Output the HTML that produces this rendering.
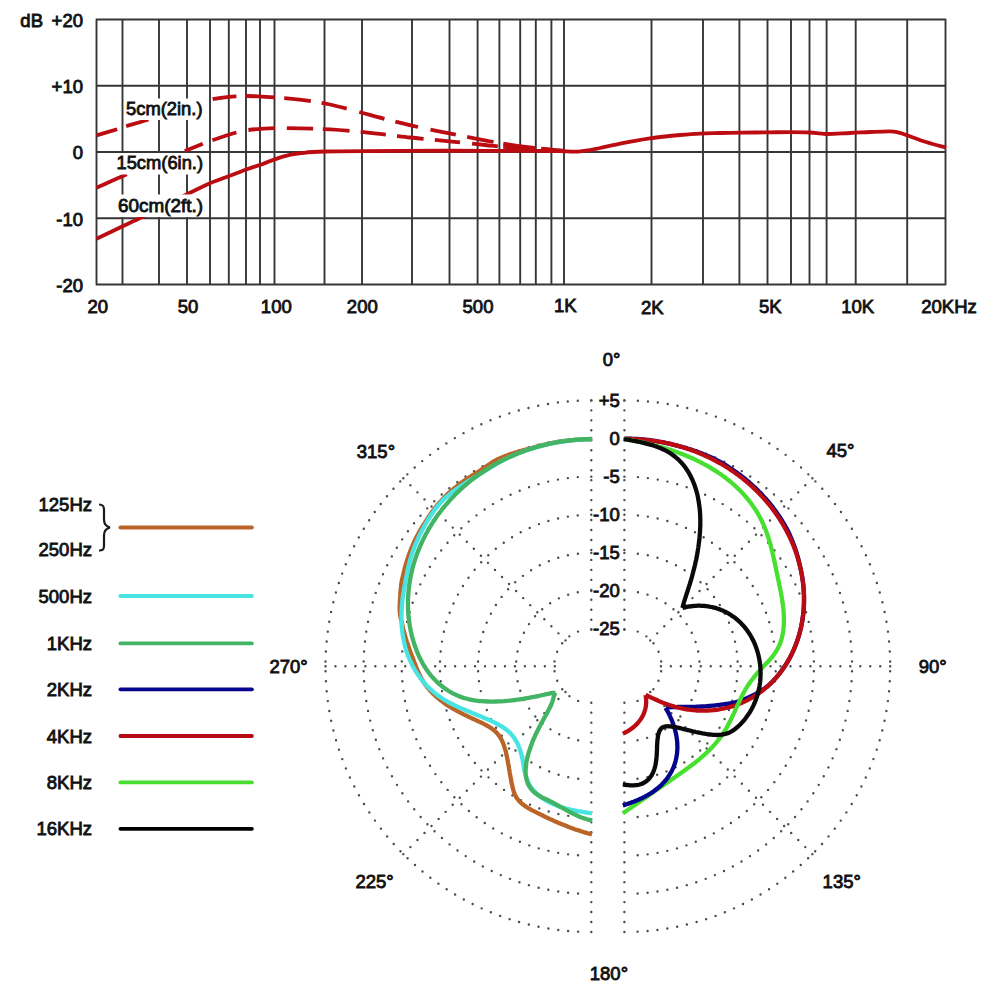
<!DOCTYPE html>
<html><head><meta charset="utf-8"><style>
html,body{margin:0;padding:0;background:#fff;}
svg{display:block;}
.t{font-family:"Liberation Sans",Arial,sans-serif;font-size:18.5px;fill:#111;stroke:#111;stroke-width:0.85px;}
</style></head><body>
<svg width="1000" height="1000" viewBox="0 0 1000 1000">
<rect width="1000" height="1000" fill="#fff"/>
<path d="M95.75 19.5H946.25M95.75 85.75H946.25M95.75 152H946.25M95.75 218.25H946.25M95.75 284.5H946.25M96.5 19.5V284.5M122.5 19.5V284.5M159 19.5V284.5M187 19.5V284.5M210 19.5V284.5M228.8 19.5V284.5M246 19.5V284.5M260 19.5V284.5M274.5 19.5V284.5M324.5 19.5V284.5M362 19.5V284.5M412 19.5V284.5M449.5 19.5V284.5M477.6 19.5V284.5M499.4 19.5V284.5M520.2 19.5V284.5M535.8 19.5V284.5M551.4 19.5V284.5M564 19.5V284.5M651.5 19.5V284.5M703 19.5V284.5M739.4 19.5V284.5M767.5 19.5V284.5M791 19.5V284.5M809.5 19.5V284.5M826.6 19.5V284.5M855.7 19.5V284.5M907.2 19.5V284.5M945.5 19.5V284.5" stroke="#363636" stroke-width="1.9" fill="none"/>
<g class="t" text-anchor="end">
<text x="43" y="27">dB</text>
<text x="83" y="26.8">+20</text>
<text x="83" y="93.0">+10</text>
<text x="83" y="159.3">0</text>
<text x="83" y="225.6">-10</text>
<text x="83" y="291.8">-20</text>
</g>
<g class="t" text-anchor="middle">
<text x="97.8" y="313">20</text>
<text x="188" y="313">50</text>
<text x="276.3" y="313">100</text>
<text x="362.3" y="313">200</text>
<text x="478" y="313">500</text>
<text x="565.2" y="311.6">1K</text>
<text x="652.4" y="314">2K</text>
<text x="770.2" y="312.8">5K</text>
<text x="857.6" y="312.8">10K</text>
<text x="949" y="312.8">20KHz</text>
</g>
<path d="M591.3 400.40A265.80 265.80 0 0 0 591.3 932.00" stroke="#4a4a4a" stroke-width="2.4" stroke-linecap="round" fill="none" stroke-dasharray="0 13.6 0 9.9733 0 9.9733 0 9.9733 0 9.9733 0 9.9733 0 9.9733 0 9.9733 0 9.9733 0 9.9733 0 9.9733 0 9.9733 0 9.9733 0 9.9733 0 9.9733 0 9.9733 0 9.9733 0 9.9733 0 9.9733 0 9.9733 0 9.9733 0 9.9733 0 9.9733 0 9.9733 0 9.9733 0 9.9733 0 9.9733 0 9.9733 0 9.9733 0 9.9733 0 9.9733 0 9.9733 0 9.9733 0 9.9733 0 9.9733 0 9.9733 0 9.9733 0 9.9733 0 9.9733 0 9.9733 0 9.9733 0 9.9733 0 9.9733 0 9.9733 0 9.9733 0 9.9733 0 9.9733 0 9.9733 0 9.9733 0 9.9733 0 9.9733 0 9.9733 0 9.9733 0 9.9733 0 9.9733 0 9.9733 0 9.9733 0 9.9733 0 9.9733 0 9.9733 0 9.9733 0 9.9733 0 9.9733 0 9.9733 0 9.9733 0 9.9733 0 9.9733 0 9.9733 0 9.9733 0 9.9733 0 9.9733 0 9.9733 0 9.9733 0 9.9733 0 9.9733 0 9.9733 0 9.9733 0 9.9733 0 9.9733 0 9.9733 0 9.9733 0 9.9733 0 13.6 0 2000"/>
<path d="M624.4 400.40A265.80 265.80 0 0 1 624.4 932.00" stroke="#4a4a4a" stroke-width="2.4" stroke-linecap="round" fill="none" stroke-dasharray="0 13.6 0 9.9733 0 9.9733 0 9.9733 0 9.9733 0 9.9733 0 9.9733 0 9.9733 0 9.9733 0 9.9733 0 9.9733 0 9.9733 0 9.9733 0 9.9733 0 9.9733 0 9.9733 0 9.9733 0 9.9733 0 9.9733 0 9.9733 0 9.9733 0 9.9733 0 9.9733 0 9.9733 0 9.9733 0 9.9733 0 9.9733 0 9.9733 0 9.9733 0 9.9733 0 9.9733 0 9.9733 0 9.9733 0 9.9733 0 9.9733 0 9.9733 0 9.9733 0 9.9733 0 9.9733 0 9.9733 0 9.9733 0 9.9733 0 9.9733 0 9.9733 0 9.9733 0 9.9733 0 9.9733 0 9.9733 0 9.9733 0 9.9733 0 9.9733 0 9.9733 0 9.9733 0 9.9733 0 9.9733 0 9.9733 0 9.9733 0 9.9733 0 9.9733 0 9.9733 0 9.9733 0 9.9733 0 9.9733 0 9.9733 0 9.9733 0 9.9733 0 9.9733 0 9.9733 0 9.9733 0 9.9733 0 9.9733 0 9.9733 0 9.9733 0 9.9733 0 9.9733 0 9.9733 0 9.9733 0 9.9733 0 9.9733 0 9.9733 0 9.9733 0 9.9733 0 13.6 0 2000"/>
<path d="M591.3 438.52A227.68 227.68 0 0 0 591.3 893.88" stroke="#4a4a4a" stroke-width="2.4" stroke-linecap="round" fill="none" stroke-dasharray="0 13.6 0 9.9721 0 9.9721 0 9.9721 0 9.9721 0 9.9721 0 9.9721 0 9.9721 0 9.9721 0 9.9721 0 9.9721 0 9.9721 0 9.9721 0 9.9721 0 9.9721 0 9.9721 0 9.9721 0 9.9721 0 9.9721 0 9.9721 0 9.9721 0 9.9721 0 9.9721 0 9.9721 0 9.9721 0 9.9721 0 9.9721 0 9.9721 0 9.9721 0 9.9721 0 9.9721 0 9.9721 0 9.9721 0 9.9721 0 9.9721 0 9.9721 0 9.9721 0 9.9721 0 9.9721 0 9.9721 0 9.9721 0 9.9721 0 9.9721 0 9.9721 0 9.9721 0 9.9721 0 9.9721 0 9.9721 0 9.9721 0 9.9721 0 9.9721 0 9.9721 0 9.9721 0 9.9721 0 9.9721 0 9.9721 0 9.9721 0 9.9721 0 9.9721 0 9.9721 0 9.9721 0 9.9721 0 9.9721 0 9.9721 0 9.9721 0 9.9721 0 9.9721 0 9.9721 0 9.9721 0 9.9721 0 13.6 0 2000"/>
<path d="M624.4 438.52A227.68 227.68 0 0 1 624.4 893.88" stroke="#4a4a4a" stroke-width="2.4" stroke-linecap="round" fill="none" stroke-dasharray="0 13.6 0 9.9721 0 9.9721 0 9.9721 0 9.9721 0 9.9721 0 9.9721 0 9.9721 0 9.9721 0 9.9721 0 9.9721 0 9.9721 0 9.9721 0 9.9721 0 9.9721 0 9.9721 0 9.9721 0 9.9721 0 9.9721 0 9.9721 0 9.9721 0 9.9721 0 9.9721 0 9.9721 0 9.9721 0 9.9721 0 9.9721 0 9.9721 0 9.9721 0 9.9721 0 9.9721 0 9.9721 0 9.9721 0 9.9721 0 9.9721 0 9.9721 0 9.9721 0 9.9721 0 9.9721 0 9.9721 0 9.9721 0 9.9721 0 9.9721 0 9.9721 0 9.9721 0 9.9721 0 9.9721 0 9.9721 0 9.9721 0 9.9721 0 9.9721 0 9.9721 0 9.9721 0 9.9721 0 9.9721 0 9.9721 0 9.9721 0 9.9721 0 9.9721 0 9.9721 0 9.9721 0 9.9721 0 9.9721 0 9.9721 0 9.9721 0 9.9721 0 9.9721 0 9.9721 0 9.9721 0 9.9721 0 13.6 0 2000"/>
<path d="M591.3 476.64A189.56 189.56 0 0 0 591.3 855.76" stroke="#4a4a4a" stroke-width="2.4" stroke-linecap="round" fill="none" stroke-dasharray="0 13.6 0 9.9705 0 9.9705 0 9.9705 0 9.9705 0 9.9705 0 9.9705 0 9.9705 0 9.9705 0 9.9705 0 9.9705 0 9.9705 0 9.9705 0 9.9705 0 9.9705 0 9.9705 0 9.9705 0 9.9705 0 9.9705 0 9.9705 0 9.9705 0 9.9705 0 9.9705 0 9.9705 0 9.9705 0 9.9705 0 9.9705 0 9.9705 0 9.9705 0 9.9705 0 9.9705 0 9.9705 0 9.9705 0 9.9705 0 9.9705 0 9.9705 0 9.9705 0 9.9705 0 9.9705 0 9.9705 0 9.9705 0 9.9705 0 9.9705 0 9.9705 0 9.9705 0 9.9705 0 9.9705 0 9.9705 0 9.9705 0 9.9705 0 9.9705 0 9.9705 0 9.9705 0 9.9705 0 9.9705 0 9.9705 0 9.9705 0 9.9705 0 13.6 0 2000"/>
<path d="M624.4 476.64A189.56 189.56 0 0 1 624.4 855.76" stroke="#4a4a4a" stroke-width="2.4" stroke-linecap="round" fill="none" stroke-dasharray="0 13.6 0 9.9705 0 9.9705 0 9.9705 0 9.9705 0 9.9705 0 9.9705 0 9.9705 0 9.9705 0 9.9705 0 9.9705 0 9.9705 0 9.9705 0 9.9705 0 9.9705 0 9.9705 0 9.9705 0 9.9705 0 9.9705 0 9.9705 0 9.9705 0 9.9705 0 9.9705 0 9.9705 0 9.9705 0 9.9705 0 9.9705 0 9.9705 0 9.9705 0 9.9705 0 9.9705 0 9.9705 0 9.9705 0 9.9705 0 9.9705 0 9.9705 0 9.9705 0 9.9705 0 9.9705 0 9.9705 0 9.9705 0 9.9705 0 9.9705 0 9.9705 0 9.9705 0 9.9705 0 9.9705 0 9.9705 0 9.9705 0 9.9705 0 9.9705 0 9.9705 0 9.9705 0 9.9705 0 9.9705 0 9.9705 0 9.9705 0 9.9705 0 13.6 0 2000"/>
<path d="M591.3 514.76A151.44 151.44 0 0 0 591.3 817.64" stroke="#4a4a4a" stroke-width="2.4" stroke-linecap="round" fill="none" stroke-dasharray="0 13.6 0 9.9681 0 9.9681 0 9.9681 0 9.9681 0 9.9681 0 9.9681 0 9.9681 0 9.9681 0 9.9681 0 9.9681 0 9.9681 0 9.9681 0 9.9681 0 9.9681 0 9.9681 0 9.9681 0 9.9681 0 9.9681 0 9.9681 0 9.9681 0 9.9681 0 9.9681 0 9.9681 0 9.9681 0 9.9681 0 9.9681 0 9.9681 0 9.9681 0 9.9681 0 9.9681 0 9.9681 0 9.9681 0 9.9681 0 9.9681 0 9.9681 0 9.9681 0 9.9681 0 9.9681 0 9.9681 0 9.9681 0 9.9681 0 9.9681 0 9.9681 0 9.9681 0 9.9681 0 13.6 0 2000"/>
<path d="M624.4 514.76A151.44 151.44 0 0 1 624.4 817.64" stroke="#4a4a4a" stroke-width="2.4" stroke-linecap="round" fill="none" stroke-dasharray="0 13.6 0 9.9681 0 9.9681 0 9.9681 0 9.9681 0 9.9681 0 9.9681 0 9.9681 0 9.9681 0 9.9681 0 9.9681 0 9.9681 0 9.9681 0 9.9681 0 9.9681 0 9.9681 0 9.9681 0 9.9681 0 9.9681 0 9.9681 0 9.9681 0 9.9681 0 9.9681 0 9.9681 0 9.9681 0 9.9681 0 9.9681 0 9.9681 0 9.9681 0 9.9681 0 9.9681 0 9.9681 0 9.9681 0 9.9681 0 9.9681 0 9.9681 0 9.9681 0 9.9681 0 9.9681 0 9.9681 0 9.9681 0 9.9681 0 9.9681 0 9.9681 0 9.9681 0 9.9681 0 13.6 0 2000"/>
<path d="M591.3 552.88A113.32 113.32 0 0 0 591.3 779.52" stroke="#4a4a4a" stroke-width="2.4" stroke-linecap="round" fill="none" stroke-dasharray="0 13.6 0 9.9638 0 9.9638 0 9.9638 0 9.9638 0 9.9638 0 9.9638 0 9.9638 0 9.9638 0 9.9638 0 9.9638 0 9.9638 0 9.9638 0 9.9638 0 9.9638 0 9.9638 0 9.9638 0 9.9638 0 9.9638 0 9.9638 0 9.9638 0 9.9638 0 9.9638 0 9.9638 0 9.9638 0 9.9638 0 9.9638 0 9.9638 0 9.9638 0 9.9638 0 9.9638 0 9.9638 0 9.9638 0 9.9638 0 13.6 0 2000"/>
<path d="M624.4 552.88A113.32 113.32 0 0 1 624.4 779.52" stroke="#4a4a4a" stroke-width="2.4" stroke-linecap="round" fill="none" stroke-dasharray="0 13.6 0 9.9638 0 9.9638 0 9.9638 0 9.9638 0 9.9638 0 9.9638 0 9.9638 0 9.9638 0 9.9638 0 9.9638 0 9.9638 0 9.9638 0 9.9638 0 9.9638 0 9.9638 0 9.9638 0 9.9638 0 9.9638 0 9.9638 0 9.9638 0 9.9638 0 9.9638 0 9.9638 0 9.9638 0 9.9638 0 9.9638 0 9.9638 0 9.9638 0 9.9638 0 9.9638 0 9.9638 0 9.9638 0 9.9638 0 13.6 0 2000"/>
<path d="M591.3 591.00A75.20 75.20 0 0 0 591.3 741.40" stroke="#4a4a4a" stroke-width="2.4" stroke-linecap="round" fill="none" stroke-dasharray="0 13.6 0 9.9547 0 9.9547 0 9.9547 0 9.9547 0 9.9547 0 9.9547 0 9.9547 0 9.9547 0 9.9547 0 9.9547 0 9.9547 0 9.9547 0 9.9547 0 9.9547 0 9.9547 0 9.9547 0 9.9547 0 9.9547 0 9.9547 0 9.9547 0 9.9547 0 13.6 0 2000"/>
<path d="M624.4 591.00A75.20 75.20 0 0 1 624.4 741.40" stroke="#4a4a4a" stroke-width="2.4" stroke-linecap="round" fill="none" stroke-dasharray="0 13.6 0 9.9547 0 9.9547 0 9.9547 0 9.9547 0 9.9547 0 9.9547 0 9.9547 0 9.9547 0 9.9547 0 9.9547 0 9.9547 0 9.9547 0 9.9547 0 9.9547 0 9.9547 0 9.9547 0 9.9547 0 9.9547 0 9.9547 0 9.9547 0 9.9547 0 13.6 0 2000"/>
<path d="M591.3 629.12A37.08 37.08 0 0 0 591.3 703.28" stroke="#4a4a4a" stroke-width="2.4" stroke-linecap="round" fill="none" stroke-dasharray="0 13.6 0 9.9211 0 9.9211 0 9.9211 0 9.9211 0 9.9211 0 9.9211 0 9.9211 0 9.9211 0 9.9211 0 13.6 0 2000"/>
<path d="M624.4 629.12A37.08 37.08 0 0 1 624.4 703.28" stroke="#4a4a4a" stroke-width="2.4" stroke-linecap="round" fill="none" stroke-dasharray="0 13.6 0 9.9211 0 9.9211 0 9.9211 0 9.9211 0 9.9211 0 9.9211 0 9.9211 0 9.9211 0 9.9211 0 13.6 0 2000"/>
<path d="M591.30 400.40L591.30 630.12M403.35 478.25L565.79 640.69M325.50 666.20L555.22 666.20M403.35 854.15L565.79 691.71M591.30 932.00L591.30 702.28M624.40 400.40L624.40 630.12M812.35 478.25L649.91 640.69M890.20 666.20L660.48 666.20M812.35 854.15L649.91 691.71M624.40 932.00L624.40 702.28" stroke="#4a4a4a" stroke-width="2.4" stroke-linecap="round" fill="none" stroke-dasharray="0 9.97"/>
<g class="t" text-anchor="middle">
<text x="619.8" y="406.7" text-anchor="end">+5</text>
<text x="619.8" y="444.8" text-anchor="end">0</text>
<text x="619.8" y="482.9" text-anchor="end">-5</text>
<text x="619.8" y="521.1" text-anchor="end">-10</text>
<text x="619.8" y="559.2" text-anchor="end">-15</text>
<text x="619.8" y="597.3" text-anchor="end">-20</text>
<text x="619.8" y="635.4" text-anchor="end">-25</text>
</g>
<g class="t" text-anchor="middle">
<text x="602.8" y="366" text-anchor="start">0°</text>
<text x="356.8" y="458" text-anchor="start">315°</text>
<text x="826.5" y="456.5" text-anchor="start">45°</text>
<text x="269.5" y="673.2" text-anchor="start">270°</text>
<text x="918.7" y="673.3" text-anchor="start">90°</text>
<text x="355.5" y="888" text-anchor="start">225°</text>
<text x="822.6" y="888" text-anchor="start">135°</text>
<text x="589.8" y="980.4" text-anchor="start">180°</text>
</g>
<g class="t" text-anchor="end">
<text x="92" y="511">125Hz</text><text x="92" y="556">250Hz</text>
<text x="92" y="602.5">500Hz</text>
<text x="92" y="649.9">1KHz</text>
<text x="92" y="695.8">2KHz</text>
<text x="92" y="742.5">4KHz</text>
<text x="92" y="788.9">8KHz</text>
<text x="92" y="835.3">16KHz</text>
</g>
<path d="M120.4 527.5H251.9" stroke="#bb6428" stroke-width="3.8" stroke-linecap="round"/>
<path d="M120.4 596H251.9" stroke="#48e4e4" stroke-width="3.8" stroke-linecap="round"/>
<path d="M120.4 643.4H251.9" stroke="#42b464" stroke-width="3.8" stroke-linecap="round"/>
<path d="M120.4 689.3H251.9" stroke="#04048c" stroke-width="3.8" stroke-linecap="round"/>
<path d="M120.4 736H251.9" stroke="#b80a14" stroke-width="3.8" stroke-linecap="round"/>
<path d="M120.4 782.4H251.9" stroke="#48e030" stroke-width="3.8" stroke-linecap="round"/>
<path d="M120.4 828.8H251.9" stroke="#000" stroke-width="3.8" stroke-linecap="round"/>
<path d="M99 504.5c4 0 5 1.5 5 5v10c0 4 2 7 6 8c-4 1-6 4-6 8v10c0 4-1 5-5 5" stroke="#1a1a1a" stroke-width="2.2" fill="none"/>
<path d="M96.5 135.4C100.0 134.4 112.2 130.8 117.2 129.3C122.2 127.8 121.0 127.8 126.2 126.2C131.4 124.6 139.4 122.5 148.4 119.5C157.4 116.5 169.3 111.4 180.0 108.0C190.7 104.6 203.0 101.2 212.4 99.2C221.8 97.2 228.8 96.8 236.4 96.3C244.0 95.8 250.4 96.0 258.0 96.3C265.6 96.6 273.2 97.2 282.0 98.0C290.8 98.8 302.8 100.0 310.8 101.1C318.8 102.2 321.9 102.7 330.0 104.5C338.1 106.3 350.1 109.6 359.2 112.0C368.3 114.4 374.6 116.3 384.4 118.8C394.2 121.3 406.1 124.4 418.0 127.0C429.9 129.6 443.7 132.2 455.8 134.6C467.9 137.0 478.4 139.3 490.8 141.5C503.2 143.7 517.8 145.9 530.0 147.5C542.2 149.1 558.3 150.2 564.0 150.8" stroke="#bb0c12" stroke-width="3.8" fill="none" stroke-dasharray="0.00 0.00 21.58 9.52 23.19 67.42 24.00 9.61 28.84 9.64 26.56 10.93 25.69 13.04 26.10 11.56 23.03 12.87 25.68 11.43 27.09 9.93 32.52 5.63 22.49 2000.00"/>
<path d="M96.5 187.8C101.5 185.6 117.0 178.5 126.8 174.3C136.6 170.1 145.3 166.4 155.0 162.5C164.7 158.6 176.8 154.1 184.8 151.0C192.8 147.9 198.2 145.6 202.8 143.8C207.4 142.0 206.8 142.1 212.4 140.2C218.0 138.3 230.4 134.2 236.4 132.5C242.4 130.8 242.0 130.7 248.4 130.0C254.8 129.3 266.2 128.5 274.8 128.2C283.4 127.9 290.8 128.1 300.0 128.3C309.2 128.5 319.9 128.8 330.0 129.4C340.1 130.0 351.3 130.9 360.6 131.8C369.9 132.7 377.6 133.7 385.8 134.6C394.0 135.5 401.8 136.6 410.0 137.5C418.2 138.4 426.5 139.0 434.8 139.8C443.1 140.6 451.6 141.5 460.0 142.4C468.4 143.3 476.7 144.2 485.0 145.0C493.3 145.8 500.8 146.8 510.0 147.5C519.2 148.2 531.0 148.9 540.0 149.5C549.0 150.1 560.0 150.6 564.0 150.8" stroke="#bb0c12" stroke-width="3.8" fill="none" stroke-dasharray="0.00 0.00 33.17 62.51 19.39 10.26 25.21 12.29 26.47 12.00 26.41 9.61 26.66 11.25 25.36 11.28 26.76 11.24 25.33 12.07 25.94 5.63 32.28 5.61 22.43 2000.00"/>
<path d="M96.5 238.8C100.4 236.9 112.5 231.1 120.0 227.5C127.5 223.9 134.1 221.1 141.6 217.3C149.1 213.6 157.6 208.8 165.0 205.0C172.4 201.2 178.5 198.3 186.0 194.7C193.5 191.1 202.8 186.3 210.0 183.2C217.2 180.1 222.8 178.4 229.2 176.0C235.6 173.6 242.8 170.8 248.4 168.8C254.0 166.8 257.2 166.0 262.8 164.0C268.4 162.0 275.6 158.6 282.0 156.8C288.4 155.0 293.8 154.1 301.0 153.2C308.2 152.3 308.5 151.9 325.0 151.5C341.5 151.1 370.8 150.9 400.0 150.8C429.2 150.7 476.7 150.8 500.0 150.8C523.3 150.8 530.0 150.8 540.0 150.9C550.0 151.0 554.2 151.1 560.0 151.2C565.8 151.3 570.3 151.8 575.0 151.7C579.7 151.6 583.8 151.0 588.0 150.4C592.2 149.8 594.7 149.1 600.0 148.0C605.3 146.9 614.2 144.8 620.0 143.6C625.8 142.4 630.0 141.7 635.0 140.8C640.0 139.9 645.0 139.1 650.0 138.4C655.0 137.7 660.0 137.1 665.0 136.5C670.0 135.9 674.2 135.5 680.0 135.0C685.8 134.5 693.3 133.9 700.0 133.6C706.7 133.3 713.0 133.2 720.0 133.0C727.0 132.8 734.0 132.7 742.0 132.6C750.0 132.5 760.0 132.5 768.0 132.4C776.0 132.3 783.0 132.1 790.0 132.1C797.0 132.1 804.0 132.2 810.0 132.5C816.0 132.8 819.3 133.9 826.0 134.0C832.7 134.1 842.7 133.3 850.0 133.0C857.3 132.7 863.3 132.3 870.0 132.0C876.7 131.7 885.3 131.2 890.0 131.3C894.7 131.4 895.3 131.7 898.0 132.3C900.7 132.9 901.3 133.4 906.0 135.0C910.7 136.6 919.3 139.9 926.0 142.0C932.7 144.1 942.7 146.6 946.0 147.5" stroke="#bb0c12" stroke-width="3.8" fill="none" stroke-linejoin="round"/>
<g class="t">
<rect x="124" y="98.5" width="81" height="21.5" fill="#fff" stroke="none"/>
<text x="126" y="115" textLength="76.5" lengthAdjust="spacingAndGlyphs">5cm(2in.)</text>
<rect x="111" y="153" width="95" height="21.5" fill="#fff" stroke="none"/>
<text x="116.5" y="169" textLength="86.5" lengthAdjust="spacingAndGlyphs">15cm(6in.)</text>
<rect x="113" y="194.5" width="93" height="22.5" fill="#fff" stroke="none"/>
<text x="118" y="211.5" textLength="85" lengthAdjust="spacingAndGlyphs">60cm(2ft.)</text>
</g>
<path d="M592.0 439.3L590.0 439.3 588.0 439.3 586.1 439.3 584.1 439.4 582.1 439.5 580.1 439.6 578.2 439.7 576.2 439.8 574.2 440.0 572.2 440.1 570.3 440.3 568.3 440.5 566.3 440.8 564.4 441.0 562.4 441.3 560.5 441.5 558.5 441.8 556.5 442.2 554.6 442.5 552.7 442.9 550.7 443.2 548.8 443.6 546.8 444.1 544.9 444.5 543.0 445.0 541.1 445.4 539.2 445.9 537.3 446.4 535.4 447.0 533.5 447.5 531.6 448.1 529.7 448.7 527.8 449.1 525.8 449.6 523.9 450.1 522.0 450.6 520.1 451.2 518.2 451.7 516.3 452.3 514.4 452.9 512.5 453.5 510.7 454.1 508.8 454.8 506.9 455.5 505.1 456.1 503.2 456.9 501.4 457.6 499.6 458.4 497.8 459.2 496.0 460.1 494.3 461.1 492.6 462.2 490.9 463.3 489.3 464.4 487.6 465.5 486.0 466.6 484.3 467.7 482.7 468.8 481.0 469.9 479.4 471.0 477.7 472.0 476.1 473.1 474.4 474.1 472.8 475.2 471.1 476.2 469.5 477.3 467.8 478.4 466.2 479.4 464.5 480.5 462.9 481.6 461.3 482.8 459.7 484.0 458.2 485.2 456.7 486.4 455.1 487.6 453.6 488.9 452.1 490.1 450.6 491.4 449.2 492.7 447.7 494.1 446.3 495.4 444.9 496.8 443.6 498.2 442.2 499.7 440.9 501.1 439.6 502.5 438.3 504.0 437.0 505.5 435.8 507.0 434.6 508.6 433.4 510.1 432.2 511.7 431.1 513.3 430.0 514.9 428.9 516.5 427.8 518.2 426.8 519.8 425.7 521.4 424.7 523.1 423.6 524.7 422.6 526.4 421.6 528.0 420.6 529.7 419.6 531.3 418.7 533.0 417.8 534.7 416.9 536.4 416.0 538.1 415.1 539.9 414.3 541.6 413.5 543.3 412.8 545.1 412.0 546.9 411.3 548.6 410.6 550.4 409.9 552.2 409.2 554.0 408.6 555.8 408.0 557.6 407.4 559.4 406.8 561.2 406.3 563.0 405.7 564.9 405.2 566.7 404.7 568.5 404.3 570.4 403.8 572.2 403.4 574.0 403.0 575.8 402.6 577.7 402.1 579.5 401.7 581.3 401.4 583.1 401.2 585.0 401.0 586.9 400.8 588.7 400.6 590.6 400.4 592.5 400.3 594.3 400.2 596.2 400.0 598.0 400.0 599.9 399.9 601.7 399.8 603.6 399.7 605.4 399.6 607.2 399.6 609.0 399.7 610.9 399.8 612.7 400.1 614.6 400.4 616.4 400.7 618.3 401.2 620.2 401.8 622.1 402.1 623.9 402.5 625.7 402.9 627.5 403.3 629.3 403.8 631.1 404.2 632.9 404.7 634.7 405.2 636.4 405.8 638.2 406.3 639.9 406.8 641.6 407.4 643.3 408.0 645.0 408.6 646.7 409.1 648.4 409.7 650.1 410.3 651.7 410.9 653.3 411.5 655.0 412.2 656.6 412.8 658.2 413.4 659.8 414.0 661.3 414.6 662.9 415.2 664.5 415.8 666.0 416.4 667.5 417.0 669.1 417.7 670.6 418.4 672.1 419.0 673.6 419.7 675.0 420.5 676.5 421.2 677.9 422.0 679.4 422.9 680.8 423.7 682.2 424.6 683.6 425.6 685.0 426.6 686.3 427.6 687.6 428.7 688.9 429.8 690.2 431.0 691.5 432.2 692.7 433.4 694.0 434.7 695.2 435.9 696.3 437.3 697.5 438.6 698.6 439.9 699.7 441.3 700.8 442.7 701.8 444.1 702.9 445.5 703.9 447.0 704.9 448.4 705.8 449.9 706.7 451.4 707.7 452.9 708.5 454.3 709.4 455.8 710.2 457.3 711.1 458.8 711.9 460.3 712.7 461.7 713.4 463.2 714.2 464.7 714.9 466.1 715.6 467.6 716.3 469.0 717.0 470.4 717.6 471.8 718.3 473.2 718.9 474.5 719.5 475.9 720.1 477.2 720.8 478.5 721.4 479.8 722.0 481.0 722.5 482.2 723.1 483.4 723.7 484.6 724.3 485.7 724.9 486.8 725.5 487.9 726.1 488.9 726.7 489.9 727.3 490.9 728.0 491.8 728.6 492.7 729.3 493.6 729.9 494.4 730.6 495.2 731.3 495.9 732.0 496.6 732.8 497.3 733.5 498.0 734.3 498.6 735.1 499.2 735.9 499.8 736.8 500.3 737.6 500.8 738.5 501.3 739.4 501.8 740.3 502.3 741.3 502.7 742.3 503.1 743.3 503.5 744.3 503.9 745.3 504.2 746.4 504.6 747.5 504.9 748.6 505.3 749.8 505.6 750.9 505.9 752.1 506.2 753.4 506.4 754.6 506.7 755.9 507.0 757.2 507.2 758.5 507.5 759.8 507.8 761.2 508.0 762.6 508.3 764.0 508.5 765.5 508.8 766.9 509.0 768.4 509.3 770.0 509.6 771.5 509.8 773.1 510.1 774.6 510.4 776.3 510.7 777.9 511.0 779.5 511.3 781.2 511.6 782.9 512.0 784.6 512.4 786.3 512.8 788.0 513.2 789.7 513.7 791.3 514.2 792.9 514.8 794.4 515.5 795.8 516.2 797.2 517.1 798.5 517.9 799.6 518.9 800.7 519.8 801.7 520.8 802.7 521.9 803.6 523.0 804.5 524.0 805.3 525.2 806.1 526.3 806.9 527.5 807.6 528.6 808.3 529.8 809.0 531.0 809.6 532.2 810.3 533.4 810.9 534.7 811.5 535.9 812.2 537.1 812.8 538.3 813.4 539.6 814.0 540.8 814.6 542.1 815.2 543.3 815.9 544.6 816.5 545.8 817.1 547.1 817.7 548.3 818.3 549.6 818.9 550.9 819.4 552.2 820.0 553.5 820.6 554.7 821.2 556.0 821.8 557.3 822.3 558.7 822.9 560.0 823.4 561.3 824.0 562.6 824.5 563.9 825.1 565.3 825.6 566.6 826.1 568.0 826.7 569.3 827.2 570.7 827.7 572.1 828.2 573.5 828.7 574.8 829.2 576.2 829.7 577.6 830.1 579.0 830.6 580.5 831.1 581.9 831.5 583.3 832.0 584.7 832.4 586.2 832.8 587.6 833.2 589.1 833.6 590.5 834.0 592.0 834.4" stroke="#bb6428" stroke-width="4.3" fill="none" stroke-linejoin="round" stroke-linecap="butt"/>
<path d="M592.0 439.3L590.0 439.3 588.0 439.3 586.1 439.4 584.1 439.5 582.1 439.6 580.1 439.7 578.2 439.8 576.2 439.9 574.2 440.1 572.3 440.3 570.3 440.5 568.3 440.7 566.4 441.0 564.4 441.2 562.4 441.5 560.5 441.8 558.5 442.1 556.6 442.4 554.6 442.8 552.7 443.2 550.8 443.6 548.8 444.0 546.9 444.4 545.0 444.9 543.1 445.3 541.2 445.8 539.3 446.3 537.4 446.9 535.5 447.4 533.6 448.0 531.7 448.5 529.8 449.1 527.9 449.8 526.1 450.4 524.2 451.1 522.4 451.7 520.5 452.4 518.7 453.1 516.9 453.9 515.1 454.6 513.2 455.4 511.4 456.2 509.7 457.0 507.9 457.8 506.1 458.6 504.3 459.5 502.6 460.4 500.9 461.3 499.1 462.3 497.5 463.2 495.8 464.3 494.1 465.3 492.4 466.3 490.8 467.3 489.1 468.4 487.5 469.4 485.8 470.5 484.2 471.5 482.5 472.5 480.9 473.6 479.2 474.6 477.6 475.6 475.9 476.6 474.2 477.6 472.6 478.6 470.9 479.6 469.3 480.6 467.6 481.6 466.0 482.6 464.3 483.7 462.7 484.7 461.1 485.8 459.5 486.9 457.9 488.0 456.3 489.1 454.7 490.3 453.1 491.4 451.6 492.6 450.1 493.8 448.6 495.1 447.1 496.3 445.6 497.6 444.2 498.9 442.8 500.2 441.4 501.7 440.1 503.1 438.9 504.6 437.6 506.1 436.4 507.7 435.2 509.2 434.0 510.8 432.9 512.4 431.8 514.0 430.7 515.6 429.6 517.2 428.6 518.9 427.6 520.5 426.6 522.2 425.6 523.9 424.7 525.6 423.7 527.3 422.8 529.0 421.8 530.7 421.0 532.4 420.1 534.1 419.2 535.8 418.4 537.6 417.6 539.3 416.9 541.1 416.1 542.8 415.4 544.6 414.7 546.4 414.0 548.2 413.4 550.0 412.7 551.8 412.1 553.6 411.5 555.4 411.0 557.2 410.4 559.1 409.9 560.9 409.4 562.7 409.0 564.5 408.5 566.4 408.1 568.2 407.7 570.0 407.3 571.9 406.9 573.7 406.6 575.6 406.2 577.4 405.9 579.2 405.5 581.0 405.1 582.8 404.8 584.6 404.5 586.4 404.1 588.2 403.8 590.0 403.6 591.8 403.3 593.6 403.0 595.3 402.8 597.1 402.6 598.9 402.4 600.7 402.2 602.5 402.0 604.3 401.9 606.1 401.8 607.8 401.7 609.6 401.6 611.4 401.5 613.2 401.5 615.0 401.5 616.7 401.5 618.5 401.5 620.3 401.5 622.0 401.6 623.8 401.7 625.6 401.9 627.3 402.0 629.1 402.2 630.8 402.4 632.6 402.7 634.3 402.9 636.1 403.2 637.8 403.6 639.5 403.9 641.2 404.3 642.9 404.7 644.7 405.1 646.4 405.5 648.0 406.0 649.7 406.5 651.4 407.1 653.1 407.7 654.7 408.3 656.4 409.0 658.0 409.7 659.6 410.4 661.2 411.1 662.8 411.9 664.4 412.7 666.0 413.6 667.6 414.4 669.1 415.3 670.6 416.3 672.1 417.2 673.6 418.2 675.1 419.3 676.6 420.3 678.0 421.4 679.4 422.5 680.8 423.7 682.2 424.9 683.6 426.1 684.9 427.3 686.2 428.6 687.5 429.9 688.8 431.3 690.0 432.6 691.2 434.0 692.4 435.5 693.6 436.9 694.7 438.4 695.9 440.0 696.9 441.5 698.0 443.1 699.0 444.7 700.0 446.3 701.0 448.0 701.9 449.7 702.8 451.3 703.7 453.0 704.5 454.7 705.4 456.4 706.2 458.1 706.9 459.8 707.7 461.4 708.4 463.1 709.1 464.7 709.8 466.3 710.5 467.9 711.2 469.5 711.8 471.0 712.4 472.5 713.1 474.0 713.7 475.5 714.3 476.9 714.9 478.3 715.4 479.7 716.0 481.0 716.6 482.4 717.1 483.7 717.7 484.9 718.2 486.2 718.7 487.4 719.3 488.6 719.8 489.8 720.3 491.0 720.9 492.1 721.4 493.2 721.9 494.3 722.4 495.3 722.9 496.4 723.5 497.4 724.0 498.3 724.5 499.3 725.1 500.2 725.6 501.1 726.1 502.0 726.7 502.9 727.2 503.7 727.8 504.6 728.4 505.4 728.9 506.1 729.5 506.9 730.1 507.6 730.7 508.3 731.4 509.0 732.0 509.7 732.6 510.4 733.3 511.0 734.0 511.6 734.6 512.2 735.3 512.8 736.1 513.4 736.8 513.9 737.6 514.4 738.3 515.0 739.1 515.5 739.9 515.9 740.7 516.4 741.6 516.9 742.4 517.3 743.3 517.8 744.2 518.2 745.2 518.6 746.1 519.0 747.1 519.4 748.1 519.7 749.1 520.1 750.2 520.4 751.3 520.8 752.4 521.1 753.6 521.4 754.7 521.7 756.0 522.0 757.2 522.3 758.5 522.6 759.8 522.8 761.2 523.1 762.6 523.3 764.0 523.6 765.5 523.9 767.0 524.1 768.5 524.4 770.0 524.7 771.6 525.1 773.1 525.5 774.6 525.9 776.0 526.3 777.5 526.8 778.9 527.4 780.3 527.9 781.6 528.6 782.9 529.2 784.1 529.9 785.3 530.7 786.4 531.4 787.5 532.2 788.6 533.0 789.6 533.9 790.6 534.8 791.6 535.7 792.5 536.6 793.4 537.5 794.3 538.5 795.1 539.5 796.0 540.5 796.8 541.5 797.5 542.5 798.3 543.6 799.0 544.7 799.7 545.7 800.3 546.8 801.0 547.9 801.6 549.1 802.2 550.2 802.8 551.3 803.3 552.5 803.8 553.6 804.3 554.8 804.8 556.0 805.3 557.2 805.7 558.3 806.2 559.5 806.6 560.7 807.0 562.0 807.3 563.2 807.7 564.4 808.0 565.6 808.4 566.8 808.7 568.1 809.0 569.3 809.3 570.5 809.6 571.8 809.8 573.0 810.1 574.3 810.4 575.5 810.6 576.8 810.8 578.0 811.1 579.3 811.3 580.5 811.5 581.8 811.7 583.1 812.0 584.3 812.2 585.6 812.4 586.9 812.6 588.2 812.8 589.4 813.0 590.7 813.2 592.0 813.4" stroke="#48e4e4" stroke-width="4.3" fill="none" stroke-linejoin="round" stroke-linecap="butt"/>
<path d="M592.0 439.0L590.0 439.0 588.0 439.1 586.0 439.1 584.1 439.2 582.1 439.3 580.1 439.5 578.1 439.6 576.1 439.7 574.2 439.9 572.2 440.1 570.2 440.3 568.3 440.6 566.3 440.8 564.3 441.1 562.4 441.4 560.4 441.7 558.4 442.0 556.5 442.4 554.6 442.7 552.6 443.1 550.7 443.5 548.7 443.9 546.8 444.4 544.9 444.8 543.0 445.3 541.0 445.8 539.1 446.3 537.2 446.9 535.3 447.4 533.4 448.0 531.6 448.6 529.7 449.2 527.8 449.8 525.9 450.4 524.1 451.1 522.2 451.8 520.4 452.5 518.5 453.2 516.7 453.9 514.9 454.7 513.1 455.5 511.3 456.3 509.5 457.1 507.7 457.9 505.9 458.7 504.2 459.6 502.4 460.5 500.7 461.4 498.9 462.3 497.2 463.2 495.5 464.2 493.8 465.1 492.1 466.1 490.4 467.1 488.7 468.1 487.1 469.2 485.4 470.2 483.8 471.3 482.2 472.4 480.5 473.5 478.9 474.6 477.4 475.7 475.8 476.9 474.2 478.0 472.7 479.2 471.1 480.4 469.6 481.6 468.1 482.9 466.6 484.1 465.1 485.4 463.7 486.6 462.2 487.9 460.8 489.2 459.4 490.6 458.0 491.9 456.6 493.2 455.2 494.6 453.9 496.0 452.5 497.4 451.2 498.8 449.9 500.2 448.6 501.6 447.4 503.1 446.1 504.5 444.9 506.0 443.6 507.5 442.4 508.9 441.3 510.5 440.1 512.0 439.0 513.5 437.8 515.0 436.7 516.6 435.6 518.2 434.6 519.7 433.5 521.3 432.5 522.9 431.4 524.5 430.5 526.1 429.5 527.7 428.5 529.4 427.6 531.0 426.7 532.7 425.8 534.3 424.9 536.0 424.1 537.7 423.2 539.4 422.4 541.1 421.6 542.8 420.8 544.5 420.1 546.2 419.4 547.9 418.7 549.6 418.0 551.4 417.3 553.1 416.7 554.9 416.1 556.6 415.5 558.4 414.9 560.1 414.3 561.9 413.8 563.7 413.3 565.5 412.8 567.2 412.3 569.0 411.9 570.8 411.5 572.6 411.1 574.4 410.7 576.2 410.4 578.0 410.1 579.8 409.8 581.6 409.5 583.4 409.2 585.2 409.0 587.0 408.8 588.8 408.6 590.6 408.4 592.4 408.3 594.2 408.2 596.0 408.1 597.8 408.0 599.6 408.0 601.4 408.0 603.2 408.0 605.0 408.0 606.8 408.0 608.6 408.1 610.4 408.2 612.1 408.3 613.9 408.5 615.7 408.6 617.5 408.8 619.2 409.1 621.0 409.3 622.7 409.6 624.5 409.8 626.2 410.2 627.9 410.5 629.7 410.8 631.4 411.2 633.1 411.6 634.8 412.0 636.5 412.5 638.2 413.0 639.8 413.5 641.5 414.0 643.2 414.5 644.8 415.1 646.4 415.7 648.1 416.3 649.7 416.9 651.3 417.5 652.9 418.2 654.4 418.9 656.0 419.6 657.6 420.4 659.1 421.2 660.6 422.0 662.1 422.8 663.6 423.7 665.1 424.6 666.6 425.5 668.1 426.5 669.5 427.4 670.9 428.5 672.3 429.5 673.7 430.6 675.1 431.7 676.4 432.9 677.7 434.1 679.0 435.3 680.3 436.6 681.6 437.9 682.8 439.2 684.0 440.6 685.2 442.1 686.3 443.5 687.5 445.0 688.6 446.6 689.6 448.2 690.7 449.8 691.7 451.5 692.6 453.3 693.6 455.0 694.4 456.9 695.3 458.8 696.1 460.8 696.9 462.8 697.6 465.0 698.2 467.2 698.8 469.4 699.4 471.8 699.9 474.2 700.3 476.7 700.7 479.3 701.0 481.9 701.2 484.6 701.4 487.4 701.5 490.1 701.6 493.0 701.6 495.8 701.5 498.6 701.4 501.4 701.3 504.1 701.1 506.9 700.8 509.6 700.6 512.2 700.3 514.8 700.0 517.3 699.7 519.7 699.3 522.1 699.0 524.4 698.6 526.7 698.2 528.9 697.8 531.0 697.4 533.0 697.0 535.0 696.7 536.9 696.3 538.7 695.9 540.5 695.5 542.1 695.1 543.7 694.8 545.2 694.4 546.6 694.1 548.0 693.8 549.2 693.6 550.4 693.3 551.4 693.1 552.4 693.0 553.3 692.9 554.1 692.8 554.9 692.8 555.5 692.8M555.5 692.8L555.0 693.7 554.6 694.5 554.2 695.3 553.9 696.1 553.7 696.8 553.5 697.5 553.3 698.3 553.1 699.0 552.9 699.8 552.7 700.6 552.4 701.4 552.1 702.3 551.7 703.3 551.3 704.4 550.8 705.5 550.2 706.8 549.5 708.2 548.7 709.8 547.8 711.5 546.8 713.4 545.6 715.5 544.4 717.7 543.1 720.1 541.7 722.6 540.3 725.2 538.9 727.9 537.5 730.7 536.1 733.5 534.8 736.3 533.6 739.1 532.4 741.9 531.4 744.7 530.4 747.5 529.5 750.2 528.6 752.9 527.9 755.5 527.3 758.1 526.7 760.6 526.3 763.0 526.0 765.4 525.8 767.7 525.6 769.8 525.6 771.9 525.7 773.9 525.9 775.8 526.1 777.5 526.5 779.2 526.9 780.8 527.4 782.3 527.9 783.7 528.6 785.0 529.2 786.3 530.0 787.5 530.8 788.6 531.6 789.6 532.5 790.6 533.4 791.5 534.3 792.4 535.3 793.2 536.3 793.9 537.3 794.6 538.4 795.3 539.4 795.9 540.5 796.5 541.6 797.1 542.7 797.7 543.8 798.2 545.0 798.8 546.1 799.3 547.2 799.8 548.4 800.3 549.5 800.9 550.6 801.4 551.7 802.0 552.9 802.6 554.0 803.2 555.1 803.8 556.3 804.4 557.4 805.1 558.5 805.7 559.7 806.4 560.8 807.0 562.0 807.7 563.1 808.3 564.3 809.0 565.5 809.7 566.7 810.3 567.9 811.0 569.1 811.6 570.3 812.3 571.5 812.9 572.7 813.5 574.0 814.1 575.2 814.7 576.5 815.3 577.8 815.9 579.1 816.4 580.3 817.0 581.6 817.5 582.9 817.9 584.3 818.4 585.6 818.8 586.9 819.2 588.3 819.6 589.6 819.9 590.9 820.2 592.3 820.5" stroke="#42b464" stroke-width="4.3" fill="none" stroke-linejoin="round" stroke-linecap="butt"/>
<path d="M625.0 438.7L627.0 438.7 629.0 438.7 631.0 438.7 632.9 438.8 634.9 438.9 636.9 439.0 638.9 439.1 640.9 439.3 642.8 439.4 644.8 439.6 646.8 439.8 648.7 440.0 650.7 440.3 652.7 440.6 654.6 440.8 656.6 441.1 658.6 441.5 660.5 441.8 662.5 442.2 664.4 442.6 666.3 443.0 668.3 443.4 670.2 443.8 672.1 444.3 674.0 444.8 676.0 445.3 677.9 445.8 679.8 446.3 681.7 446.8 683.6 447.4 685.5 447.9 687.4 448.5 689.3 449.0 691.2 449.6 693.0 450.2 694.9 450.9 696.8 451.5 698.6 452.2 700.5 452.9 702.3 453.6 704.1 454.4 706.0 455.1 707.8 455.9 709.6 456.7 711.4 457.5 713.2 458.3 714.9 459.2 716.7 460.0 718.4 461.0 720.2 461.9 721.9 462.9 723.6 463.9 725.3 464.9 726.9 465.9 728.6 467.0 730.2 468.1 731.9 469.2 733.5 470.3 735.1 471.4 736.7 472.5 738.3 473.7 739.9 474.8 741.4 476.0 743.0 477.2 744.5 478.4 746.0 479.7 747.5 480.9 749.0 482.2 750.5 483.5 751.9 484.8 753.3 486.1 754.8 487.4 756.2 488.7 757.6 490.1 758.9 491.5 760.3 492.8 761.6 494.2 762.9 495.7 764.2 497.1 765.5 498.5 766.8 500.0 768.1 501.4 769.3 502.9 770.5 504.4 771.7 505.9 772.9 507.4 774.0 508.9 775.2 510.5 776.3 512.0 777.4 513.6 778.5 515.2 779.6 516.8 780.6 518.3 781.6 519.9 782.6 521.6 783.6 523.2 784.6 524.8 785.5 526.5 786.4 528.1 787.3 529.8 788.2 531.5 789.0 533.2 789.8 534.9 790.5 536.7 791.3 538.4 792.0 540.2 792.7 541.9 793.4 543.7 794.0 545.4 794.7 547.2 795.3 549.0 795.9 550.7 796.4 552.5 797.0 554.3 797.5 556.1 798.0 557.9 798.5 559.7 798.9 561.5 799.3 563.3 799.7 565.1 800.2 566.9 800.6 568.7 801.0 570.5 801.3 572.2 801.7 574.0 802.0 575.8 802.3 577.6 802.6 579.4 802.8 581.2 803.1 583.0 803.3 584.8 803.4 586.6 803.6 588.3 803.7 590.1 803.8 591.9 803.9 593.7 804.0 595.5 804.0 597.3 804.0 599.1 804.0 600.8 804.0 602.6 804.0 604.4 803.9 606.1 803.8 607.9 803.7 609.7 803.5 611.4 803.3 613.2 803.1 614.9 802.9 616.7 802.7 618.4 802.4 620.1 802.1 621.8 801.8 623.6 801.5 625.3 801.1 627.0 800.7 628.6 800.3 630.3 799.9 632.0 799.5 633.7 799.0 635.3 798.5 637.0 798.0 638.6 797.4 640.2 796.9 641.8 796.3 643.4 795.7 645.0 795.1 646.6 794.4 648.2 793.7 649.8 793.1 651.3 792.3 652.8 791.6 654.4 790.8 655.9 790.1 657.3 789.3 658.8 788.4 660.3 787.6 661.7 786.7 663.2 785.8 664.6 784.9 666.0 784.0 667.4 783.1 668.8 782.1 670.1 781.1 671.5 780.1 672.8 779.1 674.1 778.0 675.4 777.0 676.6 775.9 677.9 774.8 679.1 773.7 680.3 772.5 681.5 771.4 682.7 770.2 683.8 769.0 685.0 767.8 686.1 766.3 687.1 764.9 688.2 763.4 689.2 761.9 690.1 760.4 691.1 758.9 692.0 757.3 692.9 755.8 693.8 754.2 694.6 752.6 695.5 751.0 696.3 749.4 697.0 747.8 697.8 746.2 698.5 744.5 699.1 742.9 699.8 741.2 700.4 739.5 701.0 737.8 701.6 736.1 702.1 734.4 702.6 732.4 703.0 730.4 703.3 728.4 703.6 726.5 703.9 724.6 704.2 722.7 704.5 720.9 704.7 719.1 705.0 717.3 705.2 715.6 705.4 713.9 705.6 712.2 705.7 710.5 705.9 708.9 706.0 707.3 706.1 705.7 706.3 704.2 706.4 702.7 706.5 701.2 706.5 699.8 706.6 698.4 706.7 697.0 706.7 695.6 706.8 694.3 706.8 693.0 706.9 691.7 706.9 690.5 706.9 689.2 706.9 688.0 706.9 686.9 707.0 685.7 707.0 684.6 707.0 683.5 707.0 682.5 707.0 681.4 707.0 680.4 707.0 679.4 707.0 678.5 707.0 677.5 707.0 676.6 707.1 675.7 707.1 674.9 707.1 674.0 707.1 673.2 707.1 672.4 707.2 671.6 707.2 670.8 707.3 670.1 707.3 669.4 707.4 668.7 707.4 668.0 707.5 667.3 707.6 666.7 707.7 666.0 707.8" stroke="#04048c" stroke-width="4.3" fill="none" stroke-linejoin="round" stroke-linecap="butt"/>
<path d="M624.0 439.0L626.0 439.0 628.0 439.0 630.0 439.0 632.0 439.1 633.9 439.1 635.9 439.2 637.9 439.3 639.9 439.4 641.9 439.6 643.9 439.7 645.8 439.9 647.8 440.1 649.8 440.4 651.8 440.6 653.7 440.9 655.7 441.2 657.7 441.5 659.6 441.8 661.6 442.1 663.5 442.5 665.5 442.9 667.4 443.3 669.4 443.7 671.3 444.2 673.2 444.7 675.1 445.1 677.1 445.7 679.0 446.2 680.9 446.7 682.8 447.3 684.7 447.9 686.6 448.5 688.4 449.1 690.3 449.8 692.2 450.4 694.0 451.1 695.9 451.8 697.7 452.6 699.5 453.3 701.4 454.1 703.2 454.9 705.0 455.7 706.8 456.5 708.6 457.3 710.3 458.2 712.1 459.1 713.9 460.0 715.6 460.9 717.3 461.8 719.1 462.8 720.8 463.7 722.5 464.7 724.2 465.7 725.8 466.7 727.5 467.8 729.1 468.8 730.8 469.9 732.4 471.0 734.0 472.1 735.6 473.3 737.2 474.4 738.8 475.6 740.3 476.7 741.9 477.9 743.4 479.1 744.9 480.4 746.4 481.6 747.9 482.9 749.4 484.2 750.8 485.4 752.2 486.7 753.7 488.1 755.1 489.4 756.5 490.7 757.8 492.1 759.2 493.5 760.5 494.9 761.8 496.3 763.2 497.7 764.4 499.1 765.7 500.6 767.0 502.1 768.2 503.5 769.4 505.0 770.6 506.5 771.8 508.0 772.9 509.5 774.1 511.1 775.2 512.6 776.3 514.2 777.4 515.7 778.4 517.3 779.5 518.9 780.5 520.5 781.5 522.1 782.5 523.7 783.5 525.4 784.4 527.0 785.3 528.7 786.2 530.3 787.1 532.0 788.0 533.7 788.8 535.4 789.6 537.0 790.4 538.7 791.2 540.4 791.9 542.2 792.7 543.9 793.4 545.6 794.1 547.3 794.7 549.1 795.4 550.8 796.0 552.6 796.6 554.3 797.2 556.1 797.7 557.9 798.2 559.6 798.7 561.4 799.2 563.2 799.7 565.0 800.1 566.7 800.5 568.5 800.9 570.3 801.3 572.1 801.6 573.9 802.0 575.7 802.3 577.5 802.5 579.3 802.8 581.1 803.0 582.9 803.2 584.7 803.4 586.5 803.6 588.3 803.7 590.1 803.8 591.9 803.9 593.7 804.0 595.4 804.0 597.2 804.0 599.0 804.0 600.8 804.0 602.6 803.9 604.4 803.8 606.1 803.7 607.9 803.6 609.7 803.5 611.4 803.3 613.2 803.1 614.9 802.9 616.7 802.6 618.4 802.4 620.2 802.1 621.9 801.8 623.6 801.4 625.3 801.1 627.0 800.7 628.7 800.3 630.4 799.9 632.1 799.4 633.7 798.9 635.4 798.4 637.1 797.9 638.7 797.4 640.3 796.8 641.9 796.2 643.6 795.6 645.1 795.0 646.7 794.3 648.3 793.7 649.9 793.0 651.4 792.3 653.0 791.5 654.5 790.7 656.0 790.0 657.5 789.2 659.0 788.3 660.4 787.5 661.9 786.6 663.3 785.7 664.8 784.8 666.2 783.9 667.5 782.9 668.9 782.0 670.3 781.0 671.6 780.0 672.9 778.9 674.2 777.9 675.5 776.8 676.8 775.7 678.1 774.6 679.3 773.5 680.5 772.4 681.7 771.2 682.9 770.0 684.0 768.8 685.1 767.6 686.3 766.4 687.3 765.1 688.4 763.8 689.5 762.6 690.5 761.3 691.5 759.9 692.5 758.6 693.4 757.3 694.3 755.9 695.3 754.5 696.1 753.1 697.0 751.7 697.8 750.3 698.6 748.8 699.4 747.4 700.2 745.9 700.9 744.4 701.6 742.9 702.3 741.4 703.0 739.9 703.6 738.4 704.2 736.9 704.8 735.3 705.3 733.7 705.9 732.2 706.3 730.6 706.8 729.0 707.2 727.4 707.7 725.8 708.0 724.2 708.4 722.6 708.7 721.0 709.0 719.4 709.3 717.8 709.6 716.2 709.8 714.6 710.0 713.0 710.2 711.4 710.3 709.8 710.4 708.2 710.5 706.6 710.6 705.0 710.6 703.4 710.6 701.8 710.6 700.2 710.6 698.7 710.5 697.1 710.5 695.5 710.4 694.0 710.2 692.5 710.1 690.9 709.9 689.4 709.7 687.9 709.5 686.4 709.3 684.9 709.0 683.5 708.8 682.0 708.5 680.6 708.2 679.2 707.8 677.8 707.5 676.4 707.2 675.0 706.8 673.7 706.4 672.4 706.0 671.1 705.6 669.8 705.2 668.5 704.8 667.3 704.4 666.1 703.9 664.9 703.5 663.8 703.1 662.7 702.6 661.6 702.2 660.5 701.7 659.4 701.3 658.4 700.9 657.4 700.4 656.5 700.0 655.5 699.6 654.6 699.1 653.7 698.7 652.9 698.3 652.1 697.9 651.3 697.6 650.5 697.2 649.8 696.9 649.1 696.5 648.4 696.2 647.8 695.9 647.2 695.7 646.6 695.4 646.0 695.2 645.5 695.0M645.5 695.0L645.6 695.7 645.8 696.5 645.9 697.2 646.0 698.0 646.0 698.7 646.1 699.4 646.1 700.1 646.2 700.9 646.2 701.6 646.2 702.3 646.1 703.0 646.1 703.7 646.0 704.4 646.0 705.0 645.9 705.7 645.8 706.4 645.7 707.1 645.6 707.7 645.4 708.4 645.3 709.0 645.1 709.7 644.9 710.3 644.7 710.9 644.5 711.5 644.3 712.2 644.1 712.8 643.9 713.4 643.6 714.0 643.4 714.5 643.1 715.1 642.8 715.7 642.5 716.3 642.2 716.8 641.9 717.4 641.6 717.9 641.2 718.4 640.9 719.0 640.5 719.5 640.2 720.0 639.8 720.5 639.4 721.0 639.0 721.5 638.6 722.0 638.2 722.5 637.8 722.9 637.4 723.4 637.0 723.9 636.5 724.3 636.1 724.8 635.6 725.2 635.2 725.6 634.7 726.1 634.2 726.5 633.7 726.9 633.3 727.3 632.8 727.7 632.3 728.1 631.7 728.4 631.2 728.8 630.7 729.2 630.2 729.6 629.6 729.9 629.1 730.3 628.6 730.6 628.0 730.9 627.5 731.3 626.9 731.6 626.3 731.9 625.7 732.2 625.2 732.5 624.6 732.8 624.0 733.1 623.4 733.4 622.8 733.7" stroke="#bb0c12" stroke-width="4.3" fill="none" stroke-linejoin="round" stroke-linecap="butt"/>
<path d="M624.0 439.0L626.0 439.3 628.0 439.7 629.9 440.0 631.9 440.4 633.8 440.7 635.8 441.1 637.7 441.5 639.7 441.9 641.6 442.3 643.6 442.7 645.5 443.2 647.4 443.6 649.3 444.0 651.2 444.5 653.1 445.0 655.0 445.5 656.9 446.0 658.8 446.5 660.7 447.0 662.6 447.5 664.4 448.1 666.3 448.6 668.1 449.2 670.0 449.8 671.8 450.4 673.7 451.0 675.5 451.7 677.3 452.3 679.1 453.0 680.9 453.6 682.7 454.3 684.5 455.0 686.3 455.8 688.1 456.5 689.8 457.3 691.6 458.0 693.4 458.8 695.1 459.6 696.8 460.4 698.5 461.3 700.3 462.1 702.0 463.0 703.6 463.9 705.3 464.8 707.0 465.7 708.6 466.6 710.3 467.6 711.9 468.6 713.5 469.6 715.1 470.6 716.7 471.6 718.3 472.7 719.9 473.7 721.4 474.8 723.0 475.9 724.5 477.0 726.0 478.2 727.5 479.3 728.9 480.5 730.4 481.7 731.8 482.9 733.3 484.1 734.7 485.4 736.0 486.7 737.4 488.0 738.8 489.3 740.1 490.6 741.4 491.9 742.7 493.3 743.9 494.7 745.2 496.1 746.4 497.5 747.6 498.9 748.8 500.4 749.9 501.8 751.0 503.3 752.1 504.8 753.2 506.4 754.3 507.9 755.3 509.4 756.3 511.0 757.3 512.6 758.2 514.2 759.1 515.8 760.0 517.5 760.9 519.1 761.7 520.8 762.5 522.5 763.3 524.2 764.0 525.9 764.7 527.6 765.4 529.3 766.1 531.1 766.7 532.8 767.3 534.5 767.9 536.3 768.5 538.0 769.0 539.8 769.6 541.5 770.1 543.3 770.6 545.1 771.0 546.8 771.5 548.6 771.9 550.3 772.3 552.0 772.7 553.8 773.1 555.5 773.5 557.2 773.9 558.9 774.3 560.6 774.6 562.3 775.0 564.0 775.3 565.7 775.7 567.3 776.0 569.0 776.3 570.6 776.7 572.3 777.0 573.9 777.4 575.5 777.7 577.1 778.0 578.7 778.4 580.2 778.7 581.8 779.0 583.4 779.3 584.9 779.7 586.5 780.0 588.0 780.3 589.5 780.6 591.1 780.9 592.6 781.2 594.1 781.4 595.7 781.7 597.2 782.0 598.7 782.2 600.2 782.4 601.7 782.6 603.2 782.9 604.7 783.0 606.2 783.2 607.8 783.4 609.3 783.5 610.8 783.6 612.3 783.7 613.8 783.8 615.3 783.9 616.8 783.9 618.3 783.9 619.8 783.9 621.3 783.9 622.8 783.8 624.3 783.7 625.8 783.6 627.3 783.5 628.8 783.3 630.3 783.1 631.8 782.8 633.3 782.6 634.8 782.2 636.3 781.9 637.8 781.5 639.2 781.0 640.7 780.5 642.2 780.0 643.7 779.4 645.1 778.7 646.6 778.0 648.0 777.3 649.5 776.4 650.9 775.6 652.3 774.6 653.7 773.6 655.1 772.6 656.5 771.4 657.8 770.3 659.1 769.1 660.5 767.9 661.8 766.7 663.0 765.5 664.3 764.3 665.5 763.1 666.7 762.0 667.9 760.9 669.1 759.9 670.2 758.9 671.4 757.9 672.5 756.9 673.6 756.0 674.7 755.1 675.8 754.2 676.9 753.4 677.9 752.6 679.0 751.8 680.0 751.0 681.0 750.3 682.1 749.6 683.1 748.9 684.1 748.2 685.1 747.6 686.1 746.9 687.1 746.3 688.1 745.7 689.0 745.1 690.0 744.6 691.0 744.0 692.0 743.5 692.9 743.0 693.9 742.5 694.9 742.0 695.8 741.5 696.8 741.0 697.8 740.6 698.7 740.1 699.7 739.7 700.6 739.2 701.6 738.8 702.6 738.3 703.5 737.9 704.5 737.5 705.4 737.0 706.4 736.6 707.3 736.2 708.3 735.7 709.2 735.3 710.1 734.9 711.1 734.4 712.0 734.0 713.0 733.6 713.9 733.1 714.9 732.7 715.8 732.2 716.7 731.8 717.7 731.3 718.6 730.9 719.5 730.4 720.5 730.0 721.4 729.5 722.3 729.0 723.2 728.5 724.1 728.0 725.1 727.6 726.0 727.1 726.9 726.5 727.8 726.0 728.7 725.5 729.6 725.0 730.5 724.4 731.4 723.9 732.2 723.3 733.1 722.7 734.0 722.2 734.8 721.6 735.7 721.0 736.6 720.4 737.4 719.7 738.2 719.1 739.1 718.5 739.9 717.8 740.7 717.2 741.5 716.5 742.3 715.8 743.1 715.2 743.9 714.5 744.7 713.8 745.4 713.1 746.2 712.4 747.0 711.6 747.7 710.9 748.5 710.2 749.2 709.5 750.0 708.7 750.7 708.0 751.4 707.2 752.1 706.5 752.9 705.7 753.6 704.9 754.3 704.2 755.0 703.4 755.7 702.6 756.3 701.8 757.0 701.0 757.7 700.3 758.4 699.5 759.0 698.7 759.7 697.8 760.4 697.0 761.0 696.2 761.7 695.4 762.3 694.6 763.0 693.8 763.6 692.9 764.2 692.1 764.9 691.3 765.5 690.4 766.1 689.6 766.8 688.8 767.4 687.9 768.0 687.1 768.6 686.2 769.3 685.4 769.9 684.5 770.5 683.7 771.1 682.8 771.7 681.9 772.3 681.1 773.0 680.2 773.6 679.3 774.2 678.4 774.8 677.6 775.4 676.7 776.0 675.8 776.6 674.9 777.3 674.0 777.9 673.1 778.5 672.2 779.1 671.3 779.7 670.4 780.4 669.5 781.0 668.6 781.6 667.7 782.3 666.8 782.9 665.8 783.5 664.9 784.2 664.0 784.8 663.0 785.5 662.1 786.1 661.1 786.8 660.2 787.4 659.2 788.1 658.2 788.8 657.3 789.4 656.3 790.1 655.3 790.8 654.3 791.5 653.3 792.2 652.3 792.9 651.3 793.6 650.3 794.3 649.3 795.0 648.2 795.7 647.2 796.4 646.1 797.2 645.1 797.9 644.0 798.7 642.9 799.4 641.8 800.2 640.7 800.9 639.6 801.7 638.5 802.5 637.4 803.3 636.2 804.1 635.1 804.9 633.9 805.7 632.7 806.5 631.5 807.3 630.3 808.2 629.1 809.0 627.9 809.8 626.6 810.7 625.4 811.6 624.1 812.4 622.8 813.3" stroke="#48e030" stroke-width="4.3" fill="none" stroke-linejoin="round" stroke-linecap="butt"/>
<path d="M665.5 707.8L666.6 709.7 667.7 711.6 668.7 713.5 669.6 715.4 670.5 717.3 671.3 719.2 672.1 721.0 672.8 722.9 673.4 724.7 674.0 726.5 674.6 728.3 675.1 730.0 675.5 731.8 675.9 733.5 676.3 735.3 676.6 737.0 676.8 738.6 677.0 740.3 677.2 741.9 677.3 743.6 677.3 745.2 677.4 746.7 677.4 748.3 677.3 749.8 677.2 751.3 677.1 752.8 676.9 754.3 676.7 755.7 676.4 757.2 676.2 758.6 675.8 759.9 675.5 761.3 675.1 762.6 674.7 763.9 674.2 765.2 673.8 766.5 673.3 767.7 672.7 768.9 672.2 770.1 671.6 771.3 671.0 772.4 670.3 773.5 669.7 774.6 669.0 775.7 668.3 776.8 667.6 777.8 666.8 778.8 666.0 779.8 665.2 780.8 664.4 781.7 663.6 782.6 662.7 783.5 661.9 784.4 661.0 785.3 660.1 786.1 659.2 786.9 658.3 787.7 657.3 788.5 656.3 789.3 655.4 790.0 654.4 790.8 653.4 791.5 652.4 792.2 651.4 792.8 650.3 793.5 649.3 794.1 648.2 794.8 647.1 795.4 646.1 796.0 645.0 796.6 643.9 797.1 642.8 797.7 641.7 798.2 640.5 798.7 639.4 799.3 638.3 799.8 637.1 800.3 636.0 800.7 634.8 801.2 633.6 801.7 632.5 802.1 631.3 802.6 630.1 803.0 628.9 803.4 627.7 803.9 626.5 804.3 625.3 804.7 624.0 805.1 622.8 805.5" stroke="#04048c" stroke-width="4.3" fill="none" stroke-linejoin="round" stroke-linecap="butt"/>
<path d="M624.0 439.0L626.0 439.4 628.0 439.7 629.9 440.1 631.9 440.5 633.8 440.8 635.8 441.2 637.7 441.6 639.7 442.0 641.6 442.4 643.5 442.8 645.5 443.3 647.4 443.8 649.3 444.3 651.2 444.8 653.1 445.4 654.9 446.0 656.8 446.7 658.6 447.4 660.5 448.1 662.3 449.0 664.1 449.8 665.9 450.7 667.6 451.7 669.4 452.7 671.1 453.8 672.7 455.0 674.4 456.2 676.0 457.5 677.6 458.9 679.1 460.3 680.7 461.9 682.1 463.5 683.5 465.2 684.9 466.9 686.2 468.8 687.5 470.7 688.7 472.7 689.9 474.8 691.0 477.0 692.1 479.2 693.1 481.5 694.0 483.8 694.9 486.3 695.7 488.7 696.5 491.3 697.2 493.9 697.8 496.6 698.3 499.3 698.8 502.1 699.2 505.0 699.6 507.8 699.9 510.8 700.1 513.8 700.2 516.8 700.3 519.8 700.3 522.9 700.3 525.9 700.1 529.0 700.0 532.1 699.7 535.2 699.5 538.3 699.1 541.4 698.7 544.5 698.3 547.5 697.8 550.6 697.3 553.6 696.8 556.5 696.2 559.5 695.5 562.4 694.9 565.2 694.2 568.1 693.5 570.8 692.8 573.5 692.1 576.2 691.4 578.7 690.6 581.3 689.9 583.7 689.1 586.1 688.4 588.4 687.7 590.6 687.0 592.8 686.3 594.8 685.7 596.8 685.1 598.7 684.5 600.5 684.0 602.2 683.5 603.8 683.1 605.3 682.8 606.7 682.5 608.0M682.5 608.0L683.9 607.6 685.3 607.3 686.6 607.0 688.0 606.7 689.4 606.5 690.7 606.3 692.1 606.1 693.5 606.0 694.8 605.9 696.2 605.8 697.5 605.7 698.8 605.7 700.2 605.7 701.5 605.8 702.8 605.8 704.1 605.9 705.4 606.0 706.7 606.2 707.9 606.3 709.2 606.5 710.5 606.8 711.7 607.0 712.9 607.3 714.1 607.6 715.4 607.9 716.6 608.3 717.7 608.7 718.9 609.1 720.1 609.5 721.2 610.0 722.4 610.4 723.5 610.9 724.6 611.5 725.7 612.0 726.8 612.6 727.8 613.1 728.9 613.7 729.9 614.4 730.9 615.0 731.9 615.7 732.9 616.4 733.9 617.1 734.9 617.8 735.8 618.5 736.7 619.3 737.6 620.0 738.5 620.8 739.4 621.6 740.3 622.5 741.1 623.3 741.9 624.2 742.7 625.0 743.5 625.9 744.3 626.8 745.1 627.7 745.8 628.6 746.5 629.6 747.2 630.5 747.9 631.5 748.6 632.5 749.2 633.5 749.9 634.5 750.5 635.5 751.1 636.5 751.6 637.5 752.2 638.6 752.7 639.6 753.3 640.7 753.8 641.7 754.3 642.8 754.7 643.9 755.2 645.0 755.6 646.1 756.0 647.2 756.4 648.3 756.8 649.4 757.1 650.6 757.5 651.7 757.8 652.8 758.1 654.0 758.4 655.1 758.7 656.3 758.9 657.5 759.2 658.6 759.4 659.8 759.6 660.9 759.7 662.1 759.9 663.3 760.1 664.5 760.2 665.7 760.3 666.8 760.4 668.0 760.5 669.2 760.5 670.4 760.5 671.6 760.6 672.8 760.6 674.0 760.5 675.2 760.5 676.3 760.5 677.5 760.4 678.7 760.3 679.9 760.2 681.1 760.1 682.3 759.9 683.5 759.7 684.6 759.6 685.8 759.4 687.0 759.1 688.1 758.9 689.3 758.6 690.5 758.4 691.6 758.1 692.8 757.7 693.9 757.4 695.1 757.1 696.2 756.7 697.3 756.3 698.5 755.9 699.6 755.5 700.7 755.0 701.8 754.6 702.9 754.1 704.0 753.6 705.1 753.1 706.1 752.6 707.2 752.0 708.3 751.5 709.3 750.9 710.3 750.3 711.4 749.7 712.4 749.0 713.4 748.4 714.4 747.7 715.3 747.0 716.3 746.3 717.3 745.6 718.2 744.9 719.2 744.2 720.1 743.4 721.0 742.6 721.9 741.8 722.8 741.0 723.6 740.2 724.5 739.3 725.3 738.5 726.1 737.6 726.9 736.7 727.7 735.8 728.5 734.8 729.2 733.9 729.9 732.8 730.6 731.8 731.2 730.7 731.8 729.5 732.4 728.3 732.9 727.1 733.4 725.8 733.8 724.4 734.1 723.0 734.4 721.5 734.7 720.0 734.9 718.4 734.9 716.7 735.0 715.0 734.9 713.3 734.9 711.5 734.7 709.8 734.5 708.0 734.3 706.2 734.0 704.4 733.7 702.6 733.4 700.9 733.0 699.2 732.7 697.5 732.3 695.9 732.0 694.3 731.6 692.7 731.3 691.1 730.9 689.6 730.5 688.2 730.2 686.7 729.8 685.3 729.5 684.0 729.1 682.6 728.8 681.3 728.5 680.1 728.2 678.9 727.9 677.7 727.7 676.6 727.4 675.5 727.2 674.4 727.0 673.4 726.8 672.4 726.6 671.5 726.5 670.5 726.4 669.7 726.3 668.8 726.3 668.0 726.2 667.2 726.3 666.5 726.3 665.8 726.4 665.1 726.5 664.4 726.7 663.8 726.9 663.2 727.1 662.6 727.4 662.1 727.7 661.6 728.1 661.1 728.6 660.7 729.1 660.3 729.6 659.9 730.2 659.5 730.9 659.2 731.7 658.9 732.5 658.6 733.4 658.4 734.4 658.1 735.5 657.9 736.6 657.8 737.9 657.6 739.2 657.4 740.7 657.3 742.2 657.2 743.8 657.1 745.5 657.0 747.4 657.0 749.3 656.9 751.3 656.8 753.4 656.7 755.5 656.5 757.6 656.3 759.6 656.0 761.7 655.7 763.6 655.4 765.5 654.9 767.2 654.4 768.9 653.9 770.4 653.3 771.9 652.7 773.3 652.0 774.6 651.3 775.8 650.5 776.9 649.7 777.9 648.9 778.9 648.1 779.7 647.2 780.5 646.3 781.2 645.4 781.9 644.4 782.5 643.4 783.0 642.5 783.5 641.5 783.9 640.5 784.2 639.5 784.5 638.4 784.8 637.4 785.0 636.4 785.1 635.3 785.2 634.3 785.3 633.2 785.3 632.2 785.3 631.1 785.3 630.1 785.3 629.0 785.2 628.0 785.1 627.0 785.0 625.9 784.9 624.9 784.8 623.8 784.6 622.8 784.5" stroke="#0a0a0a" stroke-width="4.3" fill="none" stroke-linejoin="round" stroke-linecap="butt"/>
</svg>
</body></html>
